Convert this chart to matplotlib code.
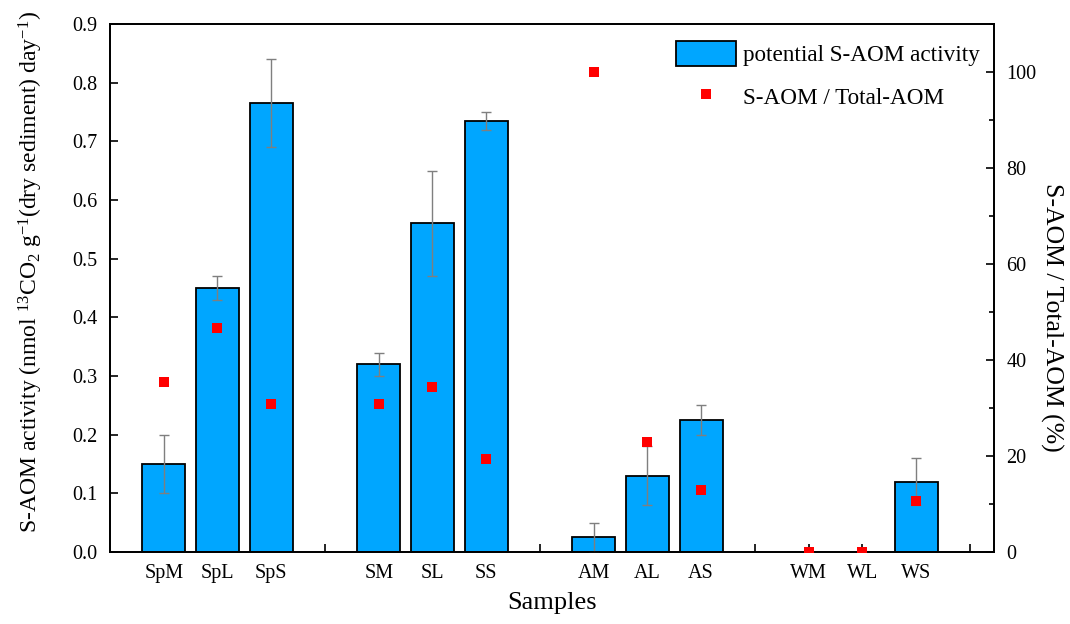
import matplotlib
matplotlib.use("Agg")
import matplotlib.pyplot as plt
from matplotlib.ticker import MultipleLocator
import numpy as np

plt.rcParams['font.family'] = ['Liberation Serif', 'DejaVu Serif']
plt.rcParams['mathtext.fontset'] = 'custom'
plt.rcParams['mathtext.rm'] = 'Liberation Serif'
plt.rcParams['mathtext.it'] = 'Liberation Serif:italic'

# ---- data ----
groups = [["SpM", "SpL", "SpS"], ["SM", "SL", "SS"], ["AM", "AL", "AS"], ["WM", "WL", "WS"]]
categories = [c for g in groups for c in g]
activity = [0.15, 0.45, 0.765, 0.32, 0.56, 0.735, 0.025, 0.13, 0.225, 0.0, 0.0, 0.12]
activity_err = [0.05, 0.02, 0.075, 0.02, 0.09, 0.015, 0.025, 0.05, 0.025, 0.0, 0.0, 0.04]
ratio = [35.5, 46.6, 30.9, 30.9, 34.4, 19.3, 100.0, 23.0, 12.9, 0.0, 0.0, 10.6]

# positions: one empty slot after each group of three
pos = []
p = 1
for g in groups:
    for _ in g:
        pos.append(p)
        p += 1
    p += 1
all_ticks = list(range(1, p))

fig = plt.figure(figsize=(10.70, 6.24), dpi=100)
ax = fig.add_axes([0.1028, 0.1154, 0.9290 - 0.1028, 0.9615 - 0.1154])

bars = ax.bar(pos, activity, width=0.8, color='#00A6FF', edgecolor='black',
              linewidth=1.3, label='potential S-AOM activity', zorder=2)
ax.errorbar(pos, activity, yerr=activity_err, fmt='none', ecolor='#7f7f7f',
            elinewidth=1.0, capsize=3.5, capthick=1.0, zorder=3)

ax.set_xlim(0, 16.45)
ax.set_ylim(0, 0.9)
ax.yaxis.set_major_locator(MultipleLocator(0.1))
ax.yaxis.set_major_formatter(matplotlib.ticker.FormatStrFormatter('%.1f'))
ax.set_xticks(all_ticks)
ax.set_xticklabels([categories[pos.index(t)] if t in pos else '' for t in all_ticks])
ax.tick_params(axis='both', direction='in', length=6, width=1.2, labelsize=14.5)
ax.tick_params(axis='x', pad=9)
ax.tick_params(axis='y', pad=9)
for s in ax.spines.values():
    s.set_linewidth(1.3)

ax.set_xlabel('Samples', fontsize=19, labelpad=6)
ax.set_ylabel(r'S-AOM activity (nmol $^{13}$CO$_2$ g$^{-1}$(dry sediment) day$^{-1}$)',
              fontsize=17, labelpad=8)
ax.yaxis.set_label_coords(-0.073, 0.53)

ax2 = ax.twinx()
ax2.set_ylim(0, 110)
ax2.yaxis.set_major_locator(MultipleLocator(20))
ax2.yaxis.set_minor_locator(MultipleLocator(10))
ax2.tick_params(axis='y', which='major', direction='in', length=6, width=1.2, labelsize=14.5, pad=9)
ax2.tick_params(axis='y', which='minor', direction='in', length=3.5, width=1.2)
pts, = ax2.plot(pos, ratio, linestyle='none', marker='s', markersize=7.5,
                color='#FF0000', markeredgewidth=0, label='S-AOM / Total-AOM', zorder=4)
ax2.set_ylabel('S-AOM / Total-AOM (%)', fontsize=18.5, rotation=270)
ax2.yaxis.set_label_coords(1.078, 0.445)
for s in ax2.spines.values():
    s.set_linewidth(1.3)

leg = ax2.legend([bars, pts], ['potential S-AOM activity', 'S-AOM / Total-AOM'],
                 loc='upper right', frameon=False, fontsize=16.7,
                 bbox_to_anchor=(1.0, 0.995), handlelength=2.6, handleheight=1.3,
                 labelspacing=0.75, handletextpad=0.3, borderaxespad=0.2)

fig.savefig('out.png', dpi=100)
